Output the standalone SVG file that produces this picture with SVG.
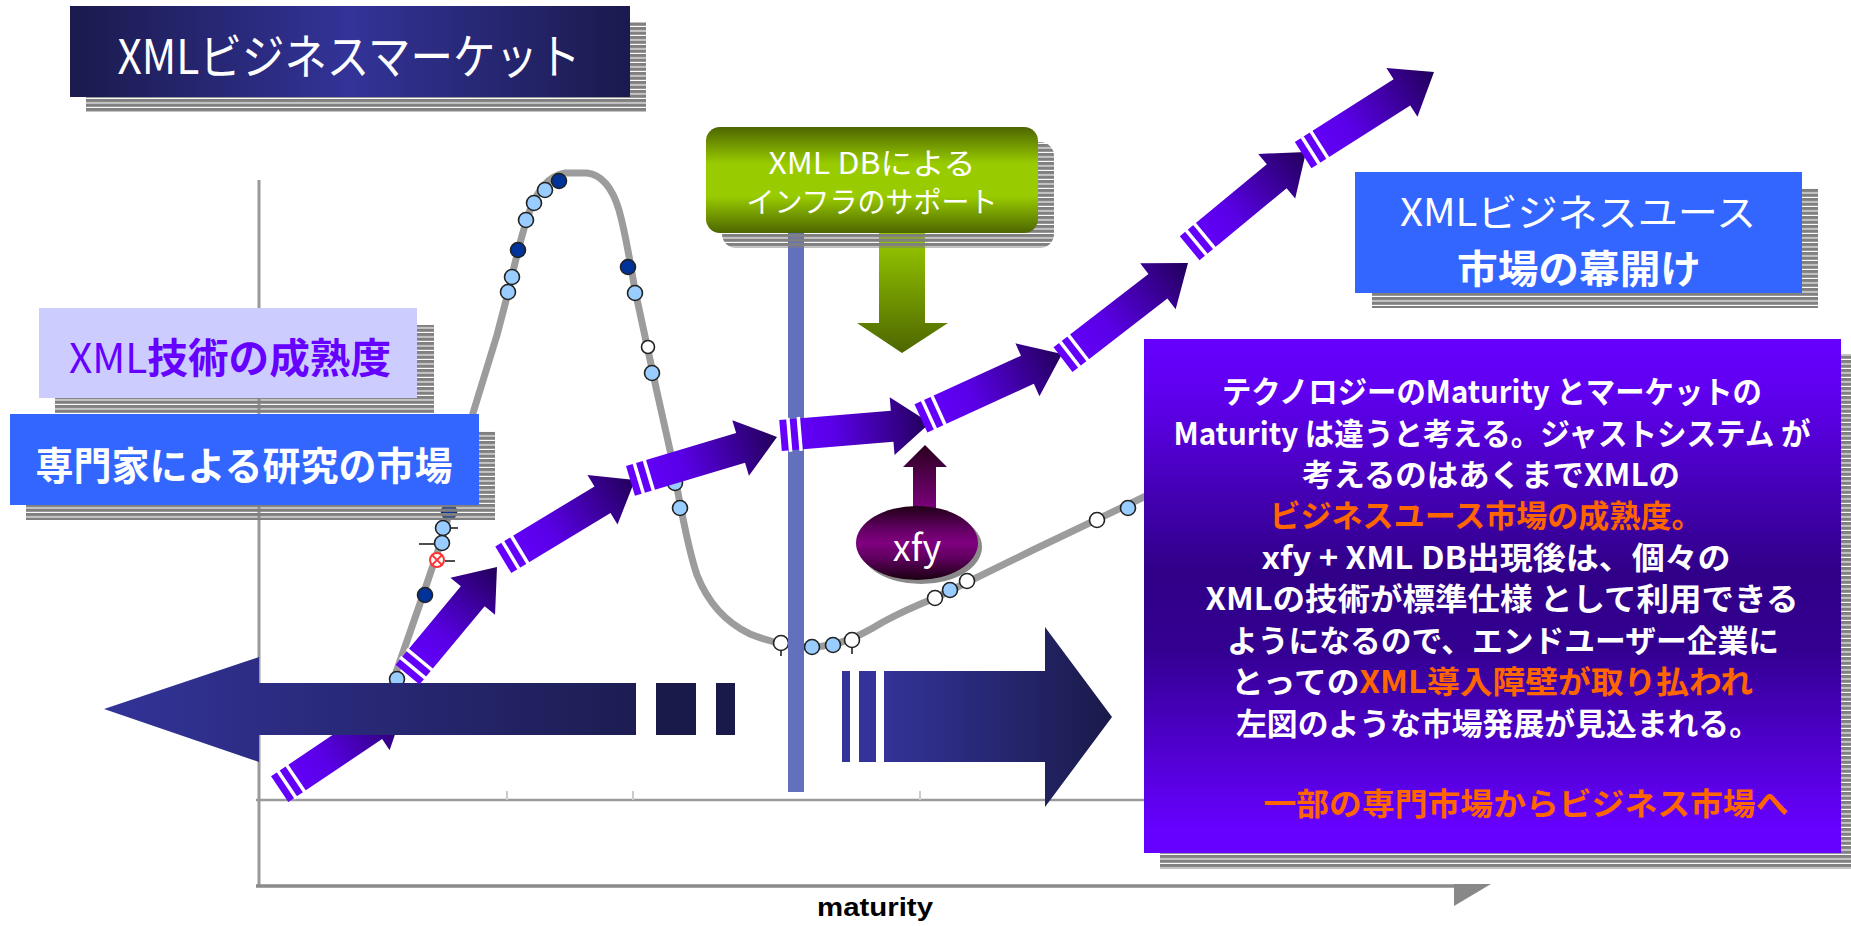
<svg xmlns="http://www.w3.org/2000/svg" width="1851" height="926" viewBox="0 0 1851 926">
<defs>
<style>
.jp{font-family:'Noto Sans CJK JP','Noto Sans',sans-serif;}
.w{fill:#fff;}
.b{font-weight:bold;}
.or{fill:#ff6600;}
.lb{fill:#99ccff;stroke:#222;stroke-width:1.6;}
.db{fill:#003399;stroke:#222;stroke-width:1.6;}
.wh{fill:#fff;stroke:#222;stroke-width:1.6;}
.tk{stroke:#222;stroke-width:1.6;}
.shadow{fill:url(#stripes);}
.parr{fill:url(#gPurple);}
.gap{fill:#fff;}
</style>
<pattern id="stripes" x="0" y="0" width="8" height="4.5" patternUnits="userSpaceOnUse">
<rect x="0" y="0" width="8" height="3.4" fill="#808080"/>
</pattern>
<linearGradient id="gTitle" x1="0" y1="0" x2="1" y2="0">
<stop offset="0" stop-color="#1a1a4d"/>
<stop offset="0.5" stop-color="#333399"/>
<stop offset="1" stop-color="#1a1a4d"/>
</linearGradient>
<linearGradient id="gGreen" x1="0" y1="0" x2="0" y2="1">
<stop offset="0" stop-color="#4d6600"/>
<stop offset="0.35" stop-color="#99cc00"/>
<stop offset="0.65" stop-color="#99cc00"/>
<stop offset="1" stop-color="#4d6600"/>
</linearGradient>
<linearGradient id="gGreenDown" x1="0" y1="0" x2="0" y2="1">
<stop offset="0" stop-color="#99cc00"/>
<stop offset="1" stop-color="#4d6600"/>
</linearGradient>
<linearGradient id="gPurple" x1="0" y1="0" x2="1" y2="0">
<stop offset="0" stop-color="#6600ff"/>
<stop offset="0.35" stop-color="#5a00e8"/>
<stop offset="1" stop-color="#22005a"/>
</linearGradient>
<linearGradient id="gBox" x1="0" y1="0" x2="0" y2="1">
<stop offset="0" stop-color="#6600ff"/>
<stop offset="0.1" stop-color="#6000f0"/>
<stop offset="0.45" stop-color="#300088"/>
<stop offset="0.6" stop-color="#330090"/>
<stop offset="0.95" stop-color="#6600ff"/>
</linearGradient>
<linearGradient id="gLeftArrow" gradientUnits="userSpaceOnUse" x1="104" y1="0" x2="700" y2="0">
<stop offset="0" stop-color="#333399"/>
<stop offset="1" stop-color="#1a1a4a"/>
</linearGradient>
<linearGradient id="gRightArrow" gradientUnits="userSpaceOnUse" x1="884" y1="0" x2="1112" y2="0">
<stop offset="0" stop-color="#333399"/>
<stop offset="1" stop-color="#1a1a4a"/>
</linearGradient>
<linearGradient id="gXfy" x1="0" y1="0" x2="0" y2="1">
<stop offset="0" stop-color="#1f0015"/>
<stop offset="0.3" stop-color="#600060"/>
<stop offset="0.5" stop-color="#800080"/>
<stop offset="0.7" stop-color="#600060"/>
<stop offset="1" stop-color="#1a0010"/>
</linearGradient>
<linearGradient id="gXfyUp" x1="0" y1="0" x2="0" y2="1">
<stop offset="0" stop-color="#2a001f"/>
<stop offset="1" stop-color="#800080"/>
</linearGradient>
</defs>

<rect x="0" y="0" width="1851" height="926" fill="#fff"/>

<g id="axes">
<line x1="259" y1="180" x2="259" y2="887" stroke="#9a9a9a" stroke-width="3"/>
<line x1="256" y1="886" x2="1456" y2="886" stroke="#8a8a8a" stroke-width="3.5"/>
<polygon points="1454,884 1491,884 1454,906" fill="#888"/>
<line x1="256" y1="800" x2="1146" y2="800" stroke="#9a9a9a" stroke-width="2.5"/>
<line x1="507" y1="791" x2="507" y2="800" stroke="#ccc" stroke-width="2"/>
<line x1="633" y1="791" x2="633" y2="800" stroke="#ccc" stroke-width="2"/>
<line x1="920" y1="791" x2="920" y2="800" stroke="#ccc" stroke-width="2"/>
<text x="875" y="916" text-anchor="middle" font-family="'Liberation Sans',Arial,sans-serif" font-weight="bold" font-size="26" textLength="116" lengthAdjust="spacingAndGlyphs" fill="#000">maturity</text>
</g>

<g id="curve">
<path d="M392,684 L423,595 L445,530 L473,413 L497,335 L508,293 C515,262 522,232 530,210 C538,190 548,176 565,173 L587,173 C603,175 613,190 619,210 C626,235 630,262 635,290 L657,392 L670,450 C678,490 685,540 697,575 C708,603 725,622 750,634 C770,642 790,647 812,647 C840,646 860,636 883,622 C905,610 920,604 935,598 L1033,550 L1146,496" fill="none" stroke="#9c9c9c" stroke-width="7" stroke-linejoin="round"/>
<circle class="lb" cx="545" cy="190" r="7.5"/>
<circle class="lb" cx="534" cy="203" r="7.5"/>
<circle class="lb" cx="526" cy="220" r="7.5"/>
<circle class="db" cx="559" cy="181" r="7.5"/>
<circle class="db" cx="518" cy="250" r="7.5"/>
<circle class="lb" cx="512" cy="277" r="7.5"/>
<circle class="lb" cx="508" cy="292" r="7.5"/>
<circle class="db" cx="628" cy="267" r="7.5"/>
<circle class="lb" cx="635" cy="293" r="7.5"/>
<circle class="wh" cx="648" cy="347" r="6.5"/>
<circle class="lb" cx="652" cy="373" r="7.5"/>
<circle class="lb" cx="675" cy="483" r="7.5"/>
<circle class="lb" cx="680" cy="508" r="7.5"/>
<circle class="db" cx="449" cy="512" r="7.5"/>
<circle class="lb" cx="443" cy="528" r="7.5"/>
<line class="tk" x1="450" y1="528" x2="458" y2="528"/>
<circle class="lb" cx="442" cy="543" r="7.5"/>
<line class="tk" x1="419" y1="544" x2="434" y2="544"/>
<circle cx="437" cy="560" r="7" fill="#fff" stroke="#ff3333" stroke-width="2"/>
<path d="M432,555 L442,565 M442,555 L432,565" stroke="#ff3333" stroke-width="1.8"/>
<line class="tk" x1="445" y1="561" x2="455" y2="561"/>
<circle class="db" cx="425" cy="595" r="7.5"/>
<circle class="lb" cx="397" cy="679" r="7.5"/>
<line class="tk" x1="781" y1="650" x2="781" y2="656"/>
<circle class="wh" cx="781" cy="643" r="7.5"/>
<circle class="lb" cx="812" cy="647" r="7.5"/>
<circle class="lb" cx="833" cy="645" r="7.5"/>
<line class="tk" x1="852" y1="647" x2="852" y2="654"/>
<circle class="wh" cx="852" cy="640" r="7.5"/>
<circle class="wh" cx="935" cy="598" r="7.5"/>
<circle class="lb" cx="950" cy="590" r="7.5"/>
<circle class="wh" cx="967" cy="581" r="7.5"/>
<circle class="wh" cx="1097" cy="520" r="7.5"/>
<circle class="lb" cx="1128" cy="508" r="7.5"/>
</g>

<g id="vline">
<rect x="788" y="225" width="16" height="567" fill="#6370bd"/>
</g>

<g id="connectors">
<g id="segA" transform="translate(405,705) rotate(-33.9)">
<polygon class="parr" points="-151,-15.5 -38,-15.5 -38,-29 0,0 -38,29 -38,15.5 -151,15.5"/>
<rect class="gap" x="-144" y="-17" width="3.5" height="34"/>
<rect class="gap" x="-133.5" y="-17" width="3.5" height="34"/>
</g>

<g id="bigLeftArrow">
<polygon points="104,709 259,657 259,683 636,683 636,735 259,735 259,762" fill="url(#gLeftArrow)"/>
<rect x="656" y="683" width="40" height="52" fill="#1a1a4a"/>
<rect x="716" y="683" width="19" height="52" fill="#1a1a4a"/>
</g>
<g id="bigRightArrow">
<rect x="842" y="671" width="8" height="91" fill="#333399"/>
<rect x="859" y="671" width="17" height="91" fill="#333399"/>
<polygon points="884,671 1045,671 1045,627 1112,717 1045,807 1045,762 884,762" fill="url(#gRightArrow)"/>
</g>

<g id="segB" transform="translate(497,567) rotate(-50.3)">
<polygon class="parr" points="-140,-15.5 -38,-15.5 -38,-29 0,0 -38,29 -38,15.5 -140,15.5"/>
<rect class="gap" x="-133" y="-17" width="3.5" height="34"/>
<rect class="gap" x="-122.5" y="-17" width="3.5" height="34"/>
</g>
<g id="segC" transform="translate(635,480) rotate(-31.2)">
<polygon class="parr" points="-154,-15.5 -38,-15.5 -38,-29 0,0 -38,29 -38,15.5 -154,15.5"/>
<rect class="gap" x="-147" y="-17" width="3.5" height="34"/>
<rect class="gap" x="-136.5" y="-17" width="3.5" height="34"/>
</g>
<g id="segD" transform="translate(777,437) rotate(-16.7)">
<polygon class="parr" points="-153,-15.5 -38,-15.5 -38,-29 0,0 -38,29 -38,15.5 -153,15.5"/>
<rect class="gap" x="-146" y="-17" width="3.5" height="34"/>
<rect class="gap" x="-135.5" y="-17" width="3.5" height="34"/>
</g>
<g id="segE" transform="translate(930,423) rotate(-4.8)">
<polygon class="parr" points="-150,-15.5 -38,-15.5 -38,-29 0,0 -38,29 -38,15.5 -150,15.5"/>
<rect class="gap" x="-143" y="-17" width="3.5" height="34"/>
<rect class="gap" x="-132.5" y="-17" width="3.5" height="34"/>
</g>
<g id="segF" transform="translate(1062,354) rotate(-24.5)">
<polygon class="parr" points="-155,-15.5 -38,-15.5 -38,-29 0,0 -38,29 -38,15.5 -155,15.5"/>
<rect class="gap" x="-148" y="-17" width="3.5" height="34"/>
<rect class="gap" x="-137.5" y="-17" width="3.5" height="34"/>
</g>
<g id="segG" transform="translate(1188,263) rotate(-37.7)">
<polygon class="parr" points="-158,-15.5 -38,-15.5 -38,-29 0,0 -38,29 -38,15.5 -158,15.5"/>
<rect class="gap" x="-151" y="-17" width="3.5" height="34"/>
<rect class="gap" x="-140.5" y="-17" width="3.5" height="34"/>
</g>
<g id="segH" transform="translate(1306,152) rotate(-39.6)">
<polygon class="parr" points="-151,-15.5 -38,-15.5 -38,-29 0,0 -38,29 -38,15.5 -151,15.5"/>
<rect class="gap" x="-144" y="-17" width="3.5" height="34"/>
<rect class="gap" x="-133.5" y="-17" width="3.5" height="34"/>
</g>
<g id="segI" transform="translate(1434,72) rotate(-32.4)">
<polygon class="parr" points="-155,-15.5 -38,-15.5 -38,-29 0,0 -38,29 -38,15.5 -155,15.5"/>
<rect class="gap" x="-148" y="-17" width="3.5" height="34"/>
<rect class="gap" x="-137.5" y="-17" width="3.5" height="34"/>
</g>

<polygon id="greenDown" points="879,232 925,232 925,323 948,323 902,353 857,323 879,323" fill="url(#gGreenDown)"/>
<polygon id="xfyUp" points="913,512 913,467 903,467 925,445 947,467 936,467 936,512" fill="url(#gXfyUp)"/>
</g>

<g id="node-xmldb">
<rect class="shadow" x="722" y="142" width="332" height="106" rx="14"/>
<rect x="706" y="127" width="332" height="106" rx="14" fill="url(#gGreen)"/>
<text class="jp w" x="872" y="174" text-anchor="middle" font-size="30" textLength="207" lengthAdjust="spacingAndGlyphs">XML DBによる</text>
<text class="jp w" x="872" y="213" text-anchor="middle" font-size="29" textLength="251" lengthAdjust="spacingAndGlyphs">インフラのサポート</text>
</g>

<g id="node-xfy">
<ellipse cx="921" cy="547" rx="61" ry="37" fill="#8a8a8a"/>
<ellipse cx="917" cy="543" rx="61" ry="37" fill="url(#gXfy)"/>
<text class="jp w" x="917" y="561" text-anchor="middle" font-size="36">xfy</text>
</g>

<g id="node-title">
<rect class="shadow" x="86" y="22" width="560" height="90"/>
<rect x="70" y="6" width="560" height="91" fill="url(#gTitle)"/>
<text class="jp w" x="349" y="74" text-anchor="middle" font-size="48" textLength="463" lengthAdjust="spacingAndGlyphs">XMLビジネスマーケット</text>
</g>

<g id="node-tech">
<rect class="shadow" x="55" y="325" width="379" height="88"/>
<rect x="39" y="308" width="378" height="90" fill="#ccccff"/>
<text class="jp" x="230" y="373" text-anchor="middle" font-size="41" fill="#6600ff" textLength="322" lengthAdjust="spacingAndGlyphs">XML<tspan class="b">技術の成熟度</tspan></text>
</g>

<g id="node-expert">
<rect class="shadow" x="26" y="431" width="469" height="89"/>
<rect x="10" y="414" width="469" height="91" fill="#3366ff"/>
<text class="jp w b" x="244" y="480" text-anchor="middle" font-size="39" textLength="417" lengthAdjust="spacingAndGlyphs">専門家による研究の市場</text>
</g>

<g id="node-bizuse">
<rect class="shadow" x="1372" y="188" width="446" height="120"/>
<rect x="1355" y="172" width="447" height="121" fill="#3366ff"/>
<text class="jp w" x="1578" y="226" text-anchor="middle" font-size="38" textLength="356" lengthAdjust="spacingAndGlyphs">XMLビジネスユース</text>
<text class="jp w b" x="1579" y="283" text-anchor="middle" font-size="39" textLength="244" lengthAdjust="spacingAndGlyphs">市場の幕開け</text>
</g>

<g id="node-note">
<rect class="shadow" x="1160" y="354" width="700" height="515"/>
<rect x="1144" y="339" width="697" height="514" fill="url(#gBox)"/>
<g class="jp b" font-size="31" text-anchor="middle">
<text class="w" x="1492" y="403" textLength="540" lengthAdjust="spacingAndGlyphs">テクノロジーのMaturity とマーケットの</text>
<text class="w" x="1492" y="444.5" textLength="637" lengthAdjust="spacingAndGlyphs">Maturity は違うと考える。ジャストシステム が</text>
<text class="w" x="1491" y="486" textLength="378" lengthAdjust="spacingAndGlyphs">考えるのはあくまでXMLの</text>
<text class="or" x="1486" y="527" textLength="433" lengthAdjust="spacingAndGlyphs">ビジネスユース市場の成熟度。</text>
<text class="w" x="1496" y="568.5" textLength="469" lengthAdjust="spacingAndGlyphs">xfy + XML DB出現後は、個々の</text>
<text class="w" x="1502" y="610" textLength="593" lengthAdjust="spacingAndGlyphs">XMLの技術が標準仕様 として利用できる</text>
<text class="w" x="1503" y="651.5" textLength="552" lengthAdjust="spacingAndGlyphs">ようになるので、エンドユーザー企業に</text>
<text class="w" x="1492" y="693" textLength="522" lengthAdjust="spacingAndGlyphs">とっての<tspan class="or">XML導入障壁が取り払われ</tspan></text>
<text class="w" x="1498" y="734.5" textLength="524" lengthAdjust="spacingAndGlyphs">左図のような市場発展が見込まれる。</text>
<text class="or" x="1526" y="815" textLength="525" lengthAdjust="spacingAndGlyphs">一部の専門市場からビジネス市場へ</text>
</g>
</g>
</svg>
